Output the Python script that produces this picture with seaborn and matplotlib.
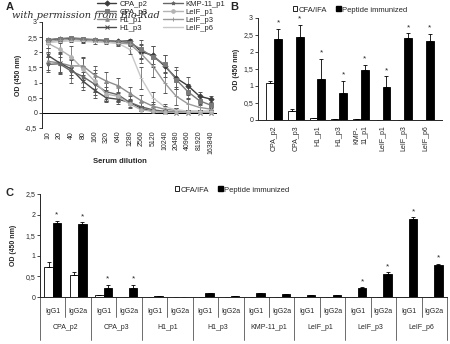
import numpy as np
import pandas as pd
import matplotlib
matplotlib.use("Agg")
import matplotlib.pyplot as plt
import matplotlib.transforms as mtransforms
from matplotlib.lines import Line2D
from matplotlib.patches import Patch
import seaborn as sns

# ---------------- data ----------------
peptides = ["CPA_p2", "CPA_p3", "H1_p1", "H1_p3", "KMP-11_p1", "LeIF_p1", "LeIF_p3", "LeIF_p6"]
dilutions = ["10", "20", "40", "80", "160", "320", "640", "1280", "2560", "5120",
             "10240", "20480", "40960", "81920", "163840"]

# Panel A: titration curves (mean OD and error)
cpa_p2 = [2.40, 2.45, 2.45, 2.42, 2.40, 2.38, 2.36, 2.38, 2.02, 1.90, 1.55, 1.15, 0.90, 0.55, 0.45]
cpa_p2_err = [0.08, 0.05, 0.05, 0.06, 0.05, 0.05, 0.06, 0.05, 0.25, 0.30, 0.35, 0.35, 0.30, 0.15, 0.12]
cpa_p3 = [2.42, 2.45, 2.48, 2.45, 2.42, 2.40, 2.35, 2.32, 2.10, 1.85, 1.60, 1.10, 0.70, 0.40, 0.25]
cpa_p3_err = [0.06, 0.05, 0.05, 0.05, 0.05, 0.05, 0.05, 0.06, 0.30, 0.35, 0.30, 0.30, 0.25, 0.15, 0.10]
h1_p1 = [1.70, 1.65, 1.55, 1.55, 1.25, 1.05, 0.90, 0.65, 0.40, 0.22, 0.12, 0.08, 0.05, 0.05, 0.05]
h1_p1_err = [0.30, 0.35, 0.30, 0.30, 0.30, 0.30, 0.25, 0.20, 0.18, 0.15, 0.10, 0.08, 0.05, 0.05, 0.05]
h1_p3 = [1.90, 1.65, 1.45, 1.05, 0.75, 0.50, 0.45, 0.35, 0.15, 0.05, 0.02, 0.00, 0.00, 0.00, 0.00]
h1_p3_err = [0.25, 0.30, 0.30, 0.30, 0.25, 0.10, 0.10, 0.08, 0.08, 0.05, 0.03, 0.02, 0.02, 0.02, 0.02]
kmp11_p1 = [1.60, 1.62, 1.38, 1.20, 0.95, 0.70, 0.60, 0.35, 0.20, 0.10, 0.05, 0.03, 0.02, 0.02, 0.02]
kmp11_p1_err = [0.25, 0.35, 0.40, 0.35, 0.35, 0.30, 0.30, 0.20, 0.15, 0.08, 0.05, 0.03, 0.03, 0.03, 0.03]
leif_p1 = [2.30, 2.10, 1.85, 1.45, 1.05, 0.62, 0.55, 0.30, 0.10, 0.05, 0.02, 0.02, 0.02, 0.02, 0.02]
leif_p1_err = [0.15, 0.25, 0.35, 0.35, 0.35, 0.25, 0.15, 0.10, 0.05, 0.03, 0.02, 0.02, 0.02, 0.02, 0.02]
leif_p3 = [2.35, 2.40, 2.42, 2.40, 2.38, 2.35, 2.30, 2.28, 1.95, 1.55, 1.00, 0.55, 0.30, 0.18, 0.12]
leif_p3_err = [0.08, 0.06, 0.06, 0.06, 0.05, 0.05, 0.06, 0.08, 0.30, 0.35, 0.35, 0.30, 0.20, 0.10, 0.08]
leif_p6 = [2.32, 2.35, 2.38, 2.36, 2.34, 2.32, 2.30, 2.10, 1.15, 0.50, 0.20, 0.10, 0.06, 0.05, 0.05]
leif_p6_err = [0.06, 0.05, 0.05, 0.05, 0.05, 0.05, 0.08, 0.15, 0.35, 0.20, 0.10, 0.05, 0.04, 0.03, 0.03]

curves = [cpa_p2, cpa_p3, h1_p1, h1_p3, kmp11_p1, leif_p1, leif_p3, leif_p6]
curve_errs = [cpa_p2_err, cpa_p3_err, h1_p1_err, h1_p3_err, kmp11_p1_err, leif_p1_err, leif_p3_err, leif_p6_err]

# Panel B: total IgG at a single dilution
groups = ["CFA/IFA", "Peptide immunized"]
b_cfa = [1.08, 0.27, 0.05, 0.03, 0.03, 0.01, 0.01, 0.01]
b_cfa_err = [0.08, 0.04, 0.01, 0.01, 0.01, 0.0, 0.0, 0.0]
b_pep = [2.38, 2.45, 1.20, 0.80, 1.48, 0.98, 2.40, 2.32]
b_pep_err = [0.30, 0.35, 0.60, 0.35, 0.15, 0.30, 0.15, 0.22]
b_sig = [True] * 8

# Panel C: IgG subclasses
isotypes = ["IgG1", "IgG2a"]
c_cfa = [0.74, 0.54, 0.04, 0.01, 0.01, 0.01, 0.01, 0.01, 0.01, 0.01, 0.01, 0.01, 0.01, 0.01, 0.01, 0.01]
c_cfa_err = [0.12, 0.06, 0.01, 0.0, 0.0, 0.0, 0.0, 0.0, 0.0, 0.0, 0.0, 0.0, 0.0, 0.0, 0.0, 0.0]
c_pep = [1.79, 1.77, 0.22, 0.22, 0.03, 0.01, 0.10, 0.03, 0.09, 0.07, 0.06, 0.04, 0.23, 0.56, 1.90, 0.78]
c_pep_err = [0.06, 0.04, 0.08, 0.08, 0.0, 0.0, 0.0, 0.0, 0.0, 0.0, 0.0, 0.0, 0.01, 0.04, 0.03, 0.03]
c_sig = [True, True, True, True, False, False, False, False,
         False, False, False, False, True, True, True, True]

# ---------------- style ----------------
sns.set_theme(style="ticks")
plt.rcParams["font.family"] = ["Liberation Sans", "DejaVu Sans"]
plt.rcParams["axes.linewidth"] = 0.7
plt.rcParams["xtick.major.width"] = 0.6
plt.rcParams["ytick.major.width"] = 0.6

TICK_FS = 5
curve_colors = ["#3c3c3c", "#7a7a7a", "#8c8c8c", "#4a4a4a", "#666666", "#b4b4b4", "#9a9a9a", "#c8c8c8"]
curve_markers = ["D", "s", "^", "x", "*", "o", "+", "_"]


def comma(v):
    return f"{v:g}".replace(".", ",")


fig = plt.figure(figsize=(4.5, 3.44), dpi=100)
fig.patch.set_facecolor("white")

# ---------------- panel A ----------------
axA = fig.add_axes([42 / 450, 1 - 128 / 344, 175 / 450, 106 / 344])
pos = np.arange(len(dilutions))
longA = pd.DataFrame({
    "peptide": np.repeat(peptides, len(dilutions)),
    "pos": np.tile(pos, len(peptides)),
    "od": np.concatenate(curves),
})
sns.lineplot(data=longA, x="pos", y="od", hue="peptide", hue_order=peptides,
             palette=dict(zip(peptides, curve_colors)), linewidth=1.0,
             errorbar=None, legend=False, ax=axA)
for vals, errs, col, mk in zip(curves, curve_errs, curve_colors, curve_markers):
    axA.errorbar(pos, vals, yerr=errs, fmt=mk, color=col, ecolor="#555555",
                 markersize=2.6, markeredgewidth=0.7, elinewidth=0.5, capsize=1.6,
                 capthick=0.5, linestyle="none")
axA.set_xlim(-0.5, len(dilutions) - 0.5)
axA.set_ylim(-0.5, 3)
axA.set_yticks(np.arange(-0.5, 3.01, 0.5))
axA.set_yticklabels([comma(v) for v in np.arange(-0.5, 3.01, 0.5)], fontsize=TICK_FS)
axA.set_xticks(pos)
axA.set_xticklabels(dilutions, rotation=90, fontsize=TICK_FS)
axA.tick_params(axis="x", length=0, pad=2)
axA.tick_params(axis="y", length=2, pad=1.5)
axA.axhline(0, color="black", linewidth=0.7)
for s in ["top", "right", "bottom"]:
    axA.spines[s].set_visible(False)
axA.set_xlabel("")
axA.set_ylabel("OD (450 nm)", fontsize=5, fontweight="bold", labelpad=2)
fig.text(120 / 450, 1 - 162 / 344, "Serum dilution", fontsize=5.5, fontweight="bold",
         ha="center", va="center")

legA = [Line2D([0], [0], color=c, marker=m, markersize=2.6, linewidth=1.0, markeredgewidth=0.7)
        for c, m in zip(curve_colors, curve_markers)]
fig.legend(legA, peptides, loc="upper left", bbox_to_anchor=(92 / 450, 1.012), ncol=2,
           frameon=False, fontsize=5.5, handlelength=2.6, handletextpad=0.4,
           columnspacing=2.0, labelspacing=0.1, borderpad=0.1)

# ---------------- panel B ----------------
axB = fig.add_axes([258 / 450, 1 - 120 / 344, 184 / 450, 102 / 344])
dfB = pd.DataFrame({
    "peptide": peptides * 2,
    "group": [groups[0]] * len(peptides) + [groups[1]] * len(peptides),
    "od": b_cfa + b_pep,
})
sns.barplot(data=dfB, x="peptide", y="od", hue="group", order=peptides, hue_order=groups,
            palette={groups[0]: "white", groups[1]: "black"}, edgecolor="black",
            linewidth=0.6, width=0.72, errorbar=None, legend=False, ax=axB)
for cont, errs in zip(axB.containers, [b_cfa_err, b_pep_err]):
    xs = [b.get_x() + b.get_width() / 2 for b in cont]
    hs = [b.get_height() for b in cont]
    axB.errorbar(xs, hs, yerr=[np.zeros(len(errs)), errs], fmt="none", ecolor="black",
                 elinewidth=0.6, capsize=1.6, capthick=0.6)
for b, e, sig in zip(axB.containers[1], b_pep_err, b_sig):
    if sig:
        axB.text(b.get_x() + b.get_width() / 2, b.get_height() + e + 0.06, "*",
                 ha="center", va="bottom", fontsize=6)
axB.set_ylim(0, 3)
axB.set_yticks(np.arange(0, 3.01, 0.5))
axB.set_yticklabels([comma(v) for v in np.arange(0, 3.01, 0.5)], fontsize=TICK_FS)
axB.set_xticks(range(len(peptides)))
axB.set_xticklabels([p.replace("KMP-11_p1", "KMP-\n11_p1") for p in peptides],
                    rotation=90, fontsize=TICK_FS)
axB.tick_params(axis="x", length=0, pad=4)
axB.tick_params(axis="y", length=2, pad=1.5)
axB.set_xlabel("")
axB.set_ylabel("OD (450 nm)", fontsize=5, fontweight="bold", labelpad=2)
sns.despine(ax=axB)

legBC = [Patch(facecolor="white", edgecolor="black", linewidth=0.6),
         Patch(facecolor="black", edgecolor="black")]
fig.legend(legBC, groups, loc="center", bbox_to_anchor=(350 / 450, 1 - 10 / 344), ncol=2,
           frameon=False, fontsize=5.5, handlelength=0.6, handleheight=0.6,
           handletextpad=0.15, columnspacing=1.2, borderpad=0.1)

# ---------------- panel C ----------------
axC = fig.add_axes([40 / 450, 1 - 297 / 344, 407 / 450, 103 / 344])
slots = [f"{p} {i}" for p in peptides for i in isotypes]
dfC = pd.DataFrame({
    "slot": slots * 2,
    "group": [groups[0]] * len(slots) + [groups[1]] * len(slots),
    "od": c_cfa + c_pep,
})
sns.barplot(data=dfC, x="slot", y="od", hue="group", order=slots, hue_order=groups,
            palette={groups[0]: "white", groups[1]: "black"}, edgecolor="black",
            linewidth=0.6, width=0.66, errorbar=None, legend=False, ax=axC)
for cont, errs in zip(axC.containers, [c_cfa_err, c_pep_err]):
    xs = [b.get_x() + b.get_width() / 2 for b in cont]
    hs = [b.get_height() for b in cont]
    axC.errorbar(xs, hs, yerr=[np.zeros(len(errs)), errs], fmt="none", ecolor="black",
                 elinewidth=0.6, capsize=1.6, capthick=0.6)
for b, e, sig in zip(axC.containers[1], c_pep_err, c_sig):
    if sig:
        axC.text(b.get_x() + b.get_width() / 2, b.get_height() + e + 0.05, "*",
                 ha="center", va="bottom", fontsize=6)
axC.set_xlim(-0.5, len(slots) - 0.5)
axC.set_ylim(0, 2.5)
axC.set_yticks(np.arange(0, 2.51, 0.5))
axC.set_yticklabels([comma(v) for v in np.arange(0, 2.51, 0.5)], fontsize=TICK_FS)
axC.set_xticks(range(len(slots)))
axC.set_xticklabels(isotypes * len(peptides), fontsize=TICK_FS)
axC.tick_params(axis="x", length=0, pad=8)
axC.tick_params(axis="y", length=2, pad=1.5)
axC.set_xlabel("")
axC.set_ylabel("OD (450 nm)", fontsize=5, fontweight="bold", labelpad=6)
sns.despine(ax=axC, left=False, bottom=False)

# category table below the axis
trC = mtransforms.blended_transform_factory(axC.transData, axC.transAxes)
for k in range(len(slots) + 1):
    depth = -0.42 if k % 2 == 0 else -0.19
    axC.plot([k - 0.5, k - 0.5], [0, depth], color="#555555", linewidth=0.6,
             transform=trC, clip_on=False)
for g, p in enumerate(peptides):
    axC.text(2 * g + 0.5, -0.30, p, transform=trC, ha="center", va="center",
             fontsize=TICK_FS)

fig.legend(legBC, groups, loc="center", bbox_to_anchor=(232 / 450, 1 - 190 / 344), ncol=2,
           frameon=False, fontsize=5.5, handlelength=0.6, handleheight=0.6,
           handletextpad=0.15, columnspacing=1.2, borderpad=0.1)

# panel letters and credit line
fig.text(6 / 450, 1 - 7 / 344, "A", fontsize=8, fontweight="bold", ha="left", va="center")
fig.text(230 / 450, 1 - 7 / 344, "B", fontsize=8, fontweight="bold", ha="left", va="center")
fig.text(6 / 450, 1 - 193 / 344, "C", fontsize=8, fontweight="bold", ha="left", va="center")
fig.text(12 / 450, 1 - 16 / 344, "with permission from Bio-Rad", fontsize=7,
         family="DejaVu Serif", style="italic", color="#2a2a2a", ha="left", va="center")

fig.savefig("out.png", dpi=100, facecolor="white")
